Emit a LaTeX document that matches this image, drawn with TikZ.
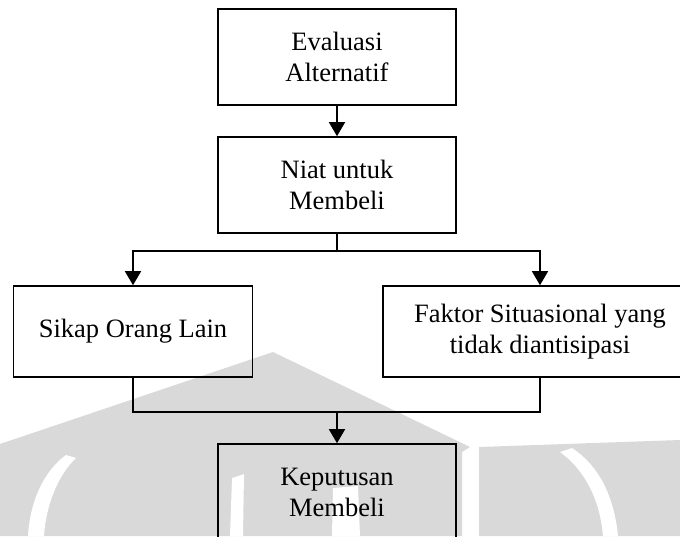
\documentclass[tikz,border=0pt]{standalone}
\usepackage{fontspec}
\setmainfont{Liberation Serif}
\usetikzlibrary{arrows.meta}
\begin{document}
\begin{tikzpicture}[x=1pt,y=-1pt,
  box/.style={draw=black, line width=1.6pt, rectangle, inner sep=0pt, align=center},
  wide/.style={font=\fontsize{26.5}{31}\selectfont},
  conn/.style={line width=1.6pt},
  arr/.style={conn, -{Triangle[width=16pt,length=14pt]}},
  wm/.style={fill=black!15, draw=none},
  wmw/.style={fill=white, draw=none}]
\useasboundingbox (0,0) rectangle (680,536);
\clip (0,0) rectangle (680,536);
% watermark (faint background logo)
\path[wm] (273,352) -- (0,444) -- (0,536) -- (462,536) -- (462,452) -- (470,447) -- cycle;
\path[wm] (479,447) -- (680,440) -- (680,536) -- (479,536) -- cycle;
\path[wmw] (28,536) .. controls (30,500) and (45,470) .. (66,455) -- (76,458) .. controls (58,475) and (46,505) .. (44,536) -- cycle;
\path[wmw] (230,536) -- (232,478) -- (244,474) -- (243,536) -- cycle;
\path[wmw] (332,536) -- (333,488) -- (358,486) -- (360,536) -- cycle;
\path[wmw] (560,452) .. controls (585,470) and (600,500) .. (603,536) -- (618,536) .. controls (614,495) and (598,465) .. (572,448) -- cycle;
% boxes
\node[box, wide, minimum width=238pt, minimum height=96pt] (b1) at (337,57) {Evaluasi\\Alternatif};
\node[box, wide, minimum width=238pt, minimum height=96pt] (b2) at (337,185) {Niat untuk\\Membeli};
\node[box, wide, minimum width=239pt, minimum height=91pt] (b3) at (133,331.5) {Sikap Orang Lain};
\node[box, wide, minimum width=314pt, minimum height=91pt] (b4) at (540,331.5) {Faktor Situasional yang\\tidak diantisipasi};
\node[box, wide, minimum width=238pt, minimum height=96pt] (b5) at (337,492) {Keputusan\\Membeli};
% connectors
\coordinate (j1) at (337,251);
\coordinate (j2) at (337,412);
\draw[arr] (b1.south) -- (b2.north);
\draw[conn] (b2.south) -- (j1);
\draw[arr] (j1) -| (b3.north);
\draw[arr] (j1) -| (b4.north);
\draw[conn] (b3.south) |- (b4.south |- j2) -- (b4.south);
\draw[arr] (j2) -- (b5.north);
\end{tikzpicture}
\end{document}
